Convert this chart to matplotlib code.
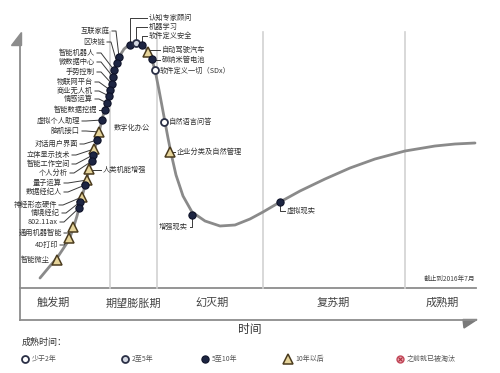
import matplotlib
matplotlib.use("Agg")
import matplotlib.pyplot as plt
from matplotlib.patches import Polygon

plt.rcParams['font.family'] = ['Noto Sans CJK SC', 'DejaVu Sans']

# hype curve (x = time, y = expectation, image units)
curve_x = [40, 50, 57, 63, 69, 73, 77, 81, 85, 89, 93, 97, 100, 103, 106, 109, 112, 115,
           119, 124, 130, 136, 142, 148, 152, 155, 159, 162, 165, 168, 171, 176, 183, 192,
           205, 220, 235, 250, 263, 280, 300, 325, 350, 375, 405, 435, 455, 475]
curve_y = [278, 266, 258, 249, 240, 229, 216, 200, 186, 170, 154, 141, 128, 116, 104, 92, 79, 67,
           57, 49, 44, 42, 44, 51, 60, 70, 90, 106, 122, 138, 153, 175, 196, 212,
           221, 226, 225, 219, 212, 202, 191, 179, 168, 159, 151, 146, 144, 143]

# technologies on the rising slope, labels on the left
left_names = ['互联家庭', '区块链', '智能机器人', '微数据中心', '手势控制', '物联网平台',
              '商业无人机', '情感运算', '智能数据挖掘', '虚拟个人助理', '脑机接口', '对话用户界面',
              '立体显示技术', '智能工作空间', '个人分析', '量子运算', '数据经纪人', '神经形态硬件',
              '情境经纪', '802.11ax', '通用机器智能', '4D打印']
left_kind = ['dark'] * 10 + ['tri', 'dark', 'tri', 'dark', 'dark', 'tri', 'dark', 'tri',
                             'dark', 'dark', 'tri', 'tri']
left_mx = [119, 117, 114, 113, 112, 110, 109, 107, 105, 102, 99, 97, 94, 93, 92, 87, 85, 82,
           80, 79, 73, 69]
left_my = [57, 63, 70, 77, 84, 90, 96, 103, 110, 120, 132, 140, 149, 155, 161, 180, 185, 197,
           202, 208, 227, 238]
left_lx = [110, 105, 95, 95, 95, 93, 93, 93, 97, 80, 80, 78, 70, 70, 68, 62, 62, 57,
           60, 58, 62, 58]
left_ly = [31, 42, 53, 62, 72, 82, 91, 99, 110, 121, 131, 144, 155, 164, 173, 183, 192, 205,
           213, 222, 233, 245]

# technologies with elbow leaders (label to the right unless noted)
right_names = ['认知专家顾问', '机器学习', '软件定义安全', '自动驾驶汽车', '碳纳米管电池',
               '软件定义一切（SDx）', '自然语言问答', '企业分类及自然管理', '人类机能增强',
               '增强现实', '虚拟现实']
right_kind = ['dark', 'light', 'dark', 'tri', 'dark', 'open', 'open', 'tri', 'tri',
              'dark', 'dark']
right_mx = [130, 136, 142, 148, 152, 155, 164, 170, 89, 192, 280]
right_my = [45, 43, 45, 52, 59, 70, 122, 152, 169, 215, 202]
right_lx = [149, 149, 149, 162, 162, 160, 169, 177, 103, 188, 287]
right_ly = [18, 27, 36, 50, 60, 71, 122, 152, 170, 227, 211]
right_side = ['r', 'r', 'r', 'r', 'r', 'r', 'r', 'r', 'r', 'l', 'r']

phase_names = ['触发期', '期望膨胀期', '幻灭期', '复苏期', '成熟期']
phase_x = [53, 133, 212, 333, 442]
phase_edges = [110, 157, 263, 405]

legend_names = ['少于2年', '2至5年', '5至10年', '10年以后', '之前就已被淘汰']
legend_kind = ['open', 'light', 'dark', 'tri', 'gone']
legend_x = [25, 125, 205, 288, 400]

styles = {
    'open': dict(marker='o', ms=5, mfc='white', mec='#2a2f45', mew=1.3),
    'light': dict(marker='o', ms=5, mfc='#d4d8e2', mec='#2a2f45', mew=1.3),
    'dark': dict(marker='o', ms=5.2, mfc='#1d2542', mec='#0e1228', mew=0.8),
    'tri': dict(marker='^', ms=6.5, mfc='#e6d49a', mec='#4a3b1e', mew=1.1),
    'gone': dict(marker='o', ms=5, mfc='#e7a3ab', mec='#c4485a', mew=1.0),
}

fig = plt.figure(figsize=(5, 3.73), dpi=100)
ax = fig.add_axes([0, 0, 1, 1])
ax.set_xlim(0, 500)
ax.set_ylim(373, 0)
ax.axis('off')

# frame
ax.plot([20, 20], [44, 320], color='#8c8c8c', lw=1.3)
ax.plot([20, 476], [288, 288], color='#8c8c8c', lw=1.3)
ax.plot([20, 476], [320, 320], color='#8c8c8c', lw=1.3)
ax.add_patch(Polygon([(20.6, 32), (20.6, 45), (11, 45)], closed=True, color='#8c8c8c'))
ax.add_patch(Polygon([(463, 319.5), (477, 319.5), (464, 328)], closed=True, color='#7a7a7a'))
for xe in phase_edges:
    ax.plot([xe, xe], [32, 288], color='#d2d2d2', lw=1.2)

for name, px in zip(phase_names, phase_x):
    ax.text(px, 303, name, ha='center', va='center', fontsize=8, color='#444444')
ax.text(250, 330, '时间', ha='center', va='center', fontsize=8.5, color='#333333')
ax.text(475, 279, '截止到2016年7月', ha='right', va='center', fontsize=4.8, color='#444444')

# curve
ax.plot(curve_x, curve_y, color='#8a8a8a', lw=2.0, solid_capstyle='round', zorder=2)

lab = dict(fontsize=5.2, color='#333333', va='center')
lead = dict(color='#3a3a3a', lw=0.7, zorder=3)

for name, mx, my, lx, ly, k in zip(left_names, left_mx, left_my, left_lx, left_ly, left_kind):
    ax.plot([lx + 2, lx + 6, mx], [ly, ly, my], **lead)
    ax.text(lx, ly, name, ha='right', **lab)
    ax.plot(mx, my, ls='none', zorder=5, **styles[k])

for name, mx, my, lx, ly, k, s in zip(right_names, right_mx, right_my, right_lx, right_ly,
                                      right_kind, right_side):
    if s == 'r':
        ax.plot([mx, mx, lx - 2], [my, ly, ly], **lead)
        ax.text(lx, ly, name, ha='left', **lab)
    else:
        ax.plot([mx, mx, lx + 2], [my, ly, ly], **lead)
        ax.text(lx, ly, name, ha='right', **lab)
    ax.plot(mx, my, ls='none', zorder=5, **styles[k])

# loose labels
ax.plot(57, 260, ls='none', zorder=5, **styles['tri'])
ax.text(50, 260, '智能微尘', ha='right', **lab)
ax.text(114, 128, '数字化办公', ha='left', **lab)

# legend
ax.text(22, 342, '成熟时间：', ha='left', va='center', fontsize=6.5, color='#333333')
for name, lxp, k in zip(legend_names, legend_x, legend_kind):
    ax.plot(lxp, 359, ls='none', **styles[k])
    if k == 'gone':
        ax.plot(lxp, 359, ls='none', marker='x', ms=3, mec='#b0303f', mew=0.8)
    ax.text(lxp + 7, 359, name, ha='left', va='center', fontsize=5, color='#555555')

fig.savefig('out.png', dpi=100)
